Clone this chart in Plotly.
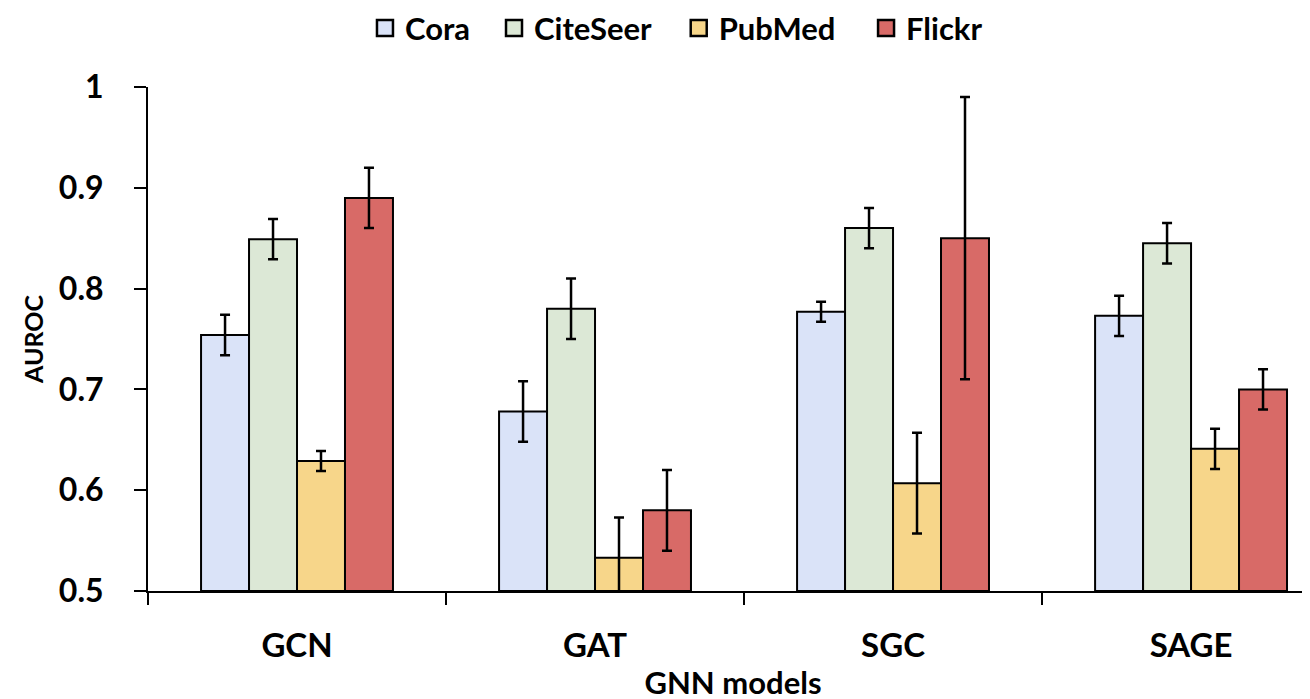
import plotly.graph_objects as go

models = ["GCN", "GAT", "SGC", "SAGE"]
series_names = ["Cora", "CiteSeer", "PubMed", "Flickr"]
cora = [0.754, 0.678, 0.777, 0.773]
cora_err = [0.02, 0.03, 0.01, 0.02]
citeseer = [0.849, 0.780, 0.860, 0.845]
citeseer_err = [0.02, 0.03, 0.02, 0.02]
pubmed = [0.629, 0.533, 0.607, 0.641]
pubmed_err = [0.01, 0.04, 0.05, 0.02]
flickr = [0.890, 0.580, 0.850, 0.700]
flickr_err = [0.03, 0.04, 0.14, 0.02]
y_ticks = [0.5, 0.6, 0.7, 0.8, 0.9, 1.0]
y_tick_labels = ["0.5", "0.6", "0.7", "0.8", "0.9", "1"]

colors = ["#DAE3F8", "#DCE8D6", "#F7D68A", "#D86A67"]
values = [cora, citeseer, pubmed, flickr]
errors = [cora_err, citeseer_err, pubmed_err, flickr_err]
legend_x = [0.2725, 0.371, 0.512, 0.655]

FONT = "Lato"
fig = go.Figure()
for name, vals, errs, col in zip(series_names, values, errors, colors):
    fig.add_trace(go.Bar(
        name=name, x=models, y=[v - 0.5 for v in vals], base=0.5,
        marker=dict(color=col, line=dict(color="black", width=2)),
        error_y=dict(type="data", array=errs, color="black", thickness=2.5, width=5),
        showlegend=False,
    ))

legend_layouts = {}
for i, (name, col, lx) in enumerate(zip(series_names, colors, legend_x)):
    key = "legend" if i == 0 else f"legend{i + 1}"
    fig.add_trace(go.Scatter(
        name=name, x=[None], y=[None], mode="markers",
        marker=dict(symbol="square", size=16, color=col, line=dict(color="black", width=2.5)),
        showlegend=True, legend=key,
    ))
    legend_layouts[key] = dict(
        orientation="h", x=lx, xref="container", xanchor="left",
        y=0.971, yref="container", yanchor="middle",
        font=dict(size=31, family=FONT, weight="bold"),
        itemwidth=30, bgcolor="rgba(0,0,0,0)",
    )

fig.update_layout(
    width=1310, height=699,
    barmode="group", bargap=0.356, bargroupgap=0,
    plot_bgcolor="white", paper_bgcolor="white",
    margin=dict(l=140, r=0, t=79, b=116, autoexpand=False),
    font=dict(family=FONT, color="black"),
    xaxis=dict(range=[-0.5, 3.426], automargin=False, showline=True, linecolor="black", linewidth=2,
               ticks="outside", tickson="boundaries", ticklen=12, tickwidth=2,
               tickcolor="black", tickfont=dict(size=33, family=FONT, weight="bold"),
               ticklabelstandoff=24, showgrid=False,
               title=dict(text="GNN models", font=dict(size=31, family=FONT, weight="bold"),
                          standoff=10)),
    yaxis=dict(range=[0.5, 1.0], automargin=False, tickvals=y_ticks, ticktext=y_tick_labels,
               showline=True, linecolor="black", linewidth=2, ticks="outside",
               ticklen=12, tickwidth=2, tickcolor="black", showgrid=False, zeroline=False,
               tickfont=dict(size=32, family=FONT, weight="bold"), ticklabelstandoff=24,
               title=dict(text="AUROC", font=dict(size=25, family=FONT, weight="bold"),
                          standoff=8)),
    **legend_layouts,
)

fig.write_html("out.html")
